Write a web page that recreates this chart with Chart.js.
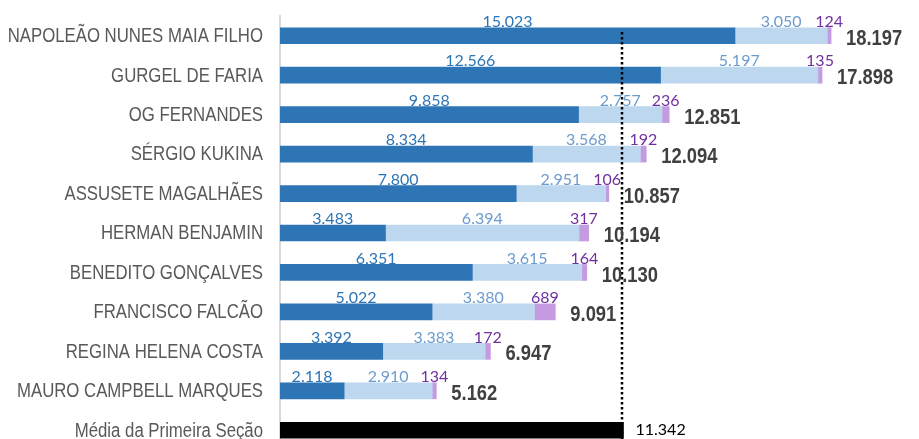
<!DOCTYPE html>
<html>
<head>
<meta charset="utf-8">
<script src="https://cdn.jsdelivr.net/npm/chart.js@4/dist/chart.umd.min.js"></script>
<style>
html, body { margin: 0; padding: 0; overflow: hidden; background: #fff; }
canvas { display: block; }
</style>
</head>
<body>
<canvas id="chart" width="919" height="450"></canvas>
<script>
'use strict';
const ministros = [
	'NAPOLEÃO NUNES MAIA FILHO',
	'GURGEL DE FARIA',
	'OG FERNANDES',
	'SÉRGIO KUKINA',
	'ASSUSETE MAGALHÃES',
	'HERMAN BENJAMIN',
	'BENEDITO GONÇALVES',
	'FRANCISCO FALCÃO',
	'REGINA HELENA COSTA',
	'MAURO CAMPBELL MARQUES',
	'Média da Primeira Seção'
];
const serieA = [15023, 12566, 9858, 8334, 7800, 3483, 6351, 5022, 3392, 2118, null];
const serieB = [3050, 5197, 2757, 3568, 2951, 6394, 3615, 3380, 3383, 2910, null];
const serieC = [124, 135, 236, 192, 106, 317, 164, 689, 172, 134, null];
const mediaSecao = 11342;
const media = [null, null, null, null, null, null, null, null, null, null, mediaSecao];

const corLabel = ['#2E75B6', '#6C9BCF', '#7030A0'];
const sans = '"Liberation Sans", Arial, sans-serif';
const lato = 'Lato, "Open Sans", sans-serif';

const fmt = (n)=>String(n).replace(/\B(?=(\d{3})+(?!\d))/g, '.');

// texto "narrow": Liberation Sans comprimida na horizontal
const narrowText = (ctx, txt, x, y, sx)=>{
	ctx.save();
	ctx.translate(x, y);
	ctx.scale(sx, 1);
	ctx.fillText(txt, 0, 0);
	ctx.restore();
};

const rotulos = {
	id: 'rotulos',
	afterDatasetsDraw: (chart)=>{
		const ctx = chart.ctx,
			x = chart.scales.x,
			y = chart.scales.y,
			area = chart.chartArea;
		ctx.save();

		// nomes das categorias
		ctx.textAlign = 'right';
		ctx.textBaseline = 'middle';
		ctx.font = '19.5px ' + sans;
		ctx.fillStyle = '#595959';
		chart.data.labels.forEach((lb, i)=>{
			narrowText(ctx, lb, area.left - 17, y.getPixelForTick(i) + 1, 0.86);
		});

		// linha pontilhada da média
		const xm = Math.round(x.getPixelForValue(mediaSecao)) - 1;
		ctx.strokeStyle = '#000';
		ctx.lineWidth = 2.5;
		ctx.setLineDash([2.5, 2.5]);
		ctx.beginPath();
		ctx.moveTo(xm, 32);
		ctx.lineTo(xm, area.bottom);
		ctx.stroke();
		ctx.setLineDash([]);

		// valores de cada parte
		ctx.textAlign = 'center';
		ctx.textBaseline = 'bottom';
		ctx.font = '16px ' + lato;
		[0, 1, 2].forEach((d)=>{
			chart.getDatasetMeta(d).data.forEach((bar, i)=>{
				const v = chart.data.datasets[d].data[i];
				if(v === null) return;
				ctx.fillStyle = corLabel[d];
				ctx.fillText(fmt(v), (bar.x + bar.base) / 2, bar.y - bar.height / 2 + 2);
			});
		});

		// totais
		ctx.textAlign = 'left';
		ctx.textBaseline = 'middle';
		ctx.font = 'bold 22px ' + sans;
		ctx.fillStyle = '#404040';
		chart.getDatasetMeta(2).data.forEach((bar, i)=>{
			if(serieA[i] === null) return;
			const total = serieA[i] + serieB[i] + serieC[i];
			narrowText(ctx, fmt(total), bar.x + 15, bar.y + 3, 0.835);
		});

		// valor da média
		const mb = chart.getDatasetMeta(3).data[10];
		ctx.font = '16px ' + lato;
		ctx.fillStyle = '#000';
		ctx.fillText(fmt(mediaSecao), mb.x + 12, mb.y);
		ctx.restore();
	}
};

new Chart(document.getElementById('chart').getContext('2d'), {
	type: 'bar',
	data: {
		labels: ministros,
		datasets: [
			{ data: serieA, backgroundColor: '#2E75B6', barThickness: 16 },
			{ data: serieB, backgroundColor: '#BDD7EE', barThickness: 16 },
			{ data: serieC, backgroundColor: '#C49BE0', barThickness: 16 },
			{ data: media, backgroundColor: '#000000', barThickness: 16 }
		]
	},
	options: {
		indexAxis: 'y',
		responsive: false,
		animation: false,
		layout: { padding: { top: 16, right: 0, bottom: 0, left: 0 } },
		plugins: { legend: { display: false }, tooltip: { enabled: false } },
		scales: {
			x: { stacked: true, display: false, min: 0, max: 21100 },
			y: {
				stacked: true,
				afterFit: (s)=>{ s.width = 280; s.paddingTop = 0; s.paddingBottom = 0; },
				grid: { display: false, drawTicks: false },
				border: { display: true, color: '#D9D9D9', width: 2 },
				ticks: { display: false }
			}
		}
	},
	plugins: [rotulos]
});
</script>
</body>
</html>
